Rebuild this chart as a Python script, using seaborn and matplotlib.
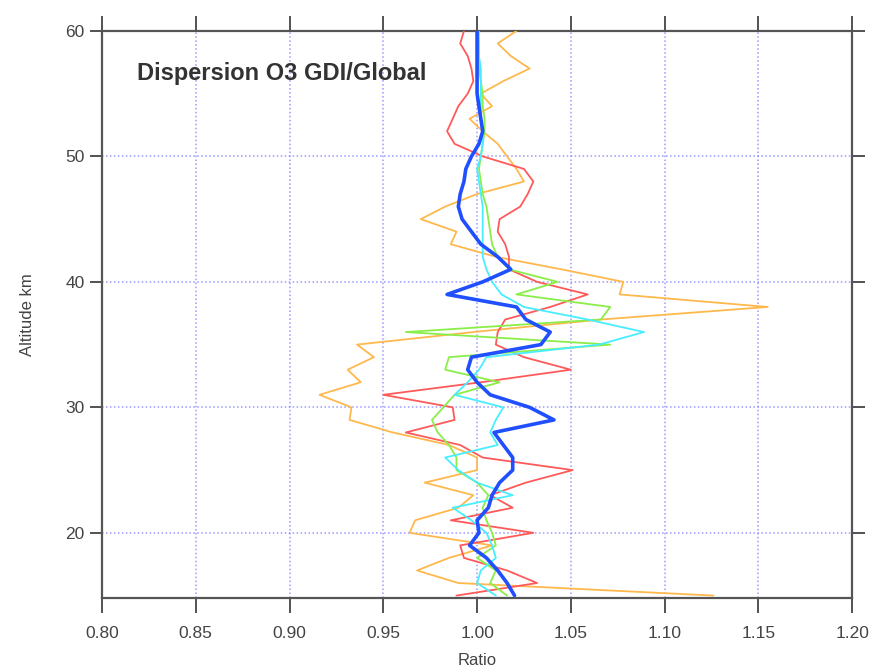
import numpy as np
import pandas as pd
import matplotlib
matplotlib.use("Agg")
import matplotlib.pyplot as plt
import seaborn as sns

altitude = list(range(15, 61))

blue = [1.020, 1.016, 1.011, 1.005, 0.996, 1.001, 1.000, 1.006, 1.008, 1.012,
        1.019, 1.019, 1.014, 1.009, 1.041, 1.028, 1.007, 1.000, 0.995, 0.997,
        1.034, 1.039, 1.026, 1.021, 0.984, 1.003, 1.018, 1.011, 1.002, 0.997,
        0.992, 0.990, 0.991, 0.993, 0.994, 0.997, 1.001, 1.003, 1.002, 1.001,
        1.000, 1.000, 1.000, 1.000, 1.000, 1.000]

red = [0.989, 1.032, 1.016, 0.993, 0.991, 1.030, 0.986, 1.019, 1.007, 1.026,
       1.051, 1.003, 0.991, 0.962, 0.988, 0.987, 0.950, 1.002, 1.050, 1.025,
       1.010, 1.011, 1.015, 1.039, 1.059, 1.032, 1.017, 1.017, 1.015, 1.011,
       1.012, 1.023, 1.027, 1.030, 1.025, 1.003, 0.988, 0.984, 0.987, 0.990,
       0.995, 0.998, 0.997, 0.995, 0.991, 0.993]

orange = [1.126, 0.990, 0.968, 0.985, 1.008, 0.964, 0.967, 0.990, 0.998, 0.972,
          1.000, 1.000, 0.985, 0.955, 0.932, 0.933, 0.916, 0.938, 0.931, 0.945,
          0.936, 0.998, 1.066, 1.155, 1.076, 1.078, 1.045, 1.010, 0.986, 0.989,
          0.970, 0.983, 1.000, 1.025, 1.021, 1.016, 1.011, 1.003, 0.996, 1.008,
          1.002, 1.014, 1.028, 1.018, 1.011, 1.021]

green = [1.016, 1.007, 1.010, 1.000, 1.010, 1.008, 1.005, 1.003, 1.006, 1.000,
         0.989, 0.989, 0.985, 0.979, 0.976, 0.982, 0.988, 1.012, 0.983, 0.985,
         1.071, 0.962, 1.066, 1.071, 1.021, 1.043, 1.017, 1.011, 1.008, 1.007,
         1.006, 1.005, 1.003, 1.002, 1.001, 1.002, 1.003, 1.004, 1.004, 1.003,
         1.003, 1.002, 1.001, 1.001, 1.001, 1.000]

cyan = [1.010, 1.000, 1.002, 1.010, 1.008, 1.005, 0.997, 0.987, 1.019, 1.000,
        0.990, 0.983, 1.011, 1.007, 1.010, 1.014, 0.988, 0.995, 1.001, 1.005,
        1.065, 1.089, 1.059, 1.025, 1.013, 1.008, 1.005, 1.003, 1.003, 1.003,
        1.003, 1.003, 1.002, 1.001, 1.000, 1.002, 1.003, 1.003, 1.002, 1.002,
        1.002, 1.002, 1.002, 1.001, 1.001, 1.001]

x_ticks = [0.80, 0.85, 0.90, 0.95, 1.00, 1.05, 1.10, 1.15, 1.20]
y_ticks = [20, 30, 40, 50, 60]

series = [
    ("orange", orange, "#ffb84d", 1.3),
    ("red", red, "#ff5a5a", 1.3),
    ("green", green, "#8aee48", 1.3),
    ("cyan", cyan, "#48eeff", 1.3),
    ("blue", blue, "#1f4fff", 2.6),
]

sns.set_style("white")
plt.rcParams['font.family'] = ['Liberation Sans', 'DejaVu Sans']

fig = plt.figure(figsize=(8.74, 6.72), dpi=100)
ax = fig.add_axes([0.1167, 0.110, 0.8583, 0.844])

for name, vals, color, lw in series:
    df = pd.DataFrame({"Ratio": vals, "Altitude": altitude})
    sns.lineplot(data=df, x="Ratio", y="Altitude", sort=False, estimator=None,
                 color=color, linewidth=lw, ax=ax, zorder=3)

ax.set_xlim(0.80, 1.20)
ax.set_ylim(14.8, 60)
ax.set_xticks(x_ticks)
ax.set_xticklabels([f"{t:.2f}" for t in x_ticks])
ax.set_yticks(y_ticks)
ax.set_yticklabels([str(t) for t in y_ticks])

ax.grid(True, color="#7878ff", linestyle=(0, (1, 1.6)), linewidth=1.1, alpha=0.75)
ax.set_axisbelow(True)

for s in ax.spines.values():
    s.set_color("#555555")
    s.set_linewidth(1.6)
    s.set_visible(True)

ax.tick_params(axis="both", which="both", direction="out", length=11, width=1.3,
               color="#444444", labelcolor="#444444", labelsize=12.5,
               top=True, right=True, bottom=True, left=True)
ax.tick_params(axis="y", length=9)
ax.tick_params(axis="x", pad=9)

ax.set_xlabel("Ratio", fontsize=12, color="#444444", labelpad=9)
ax.set_ylabel("Altitude km", fontsize=12, color="#444444", labelpad=22)

ax.text(0.047, 0.925, "Dispersion O3 GDI/Global", transform=ax.transAxes,
        fontsize=17, fontweight="bold", color="#333333", va="center", ha="left")

fig.savefig("out.png", dpi=100)
